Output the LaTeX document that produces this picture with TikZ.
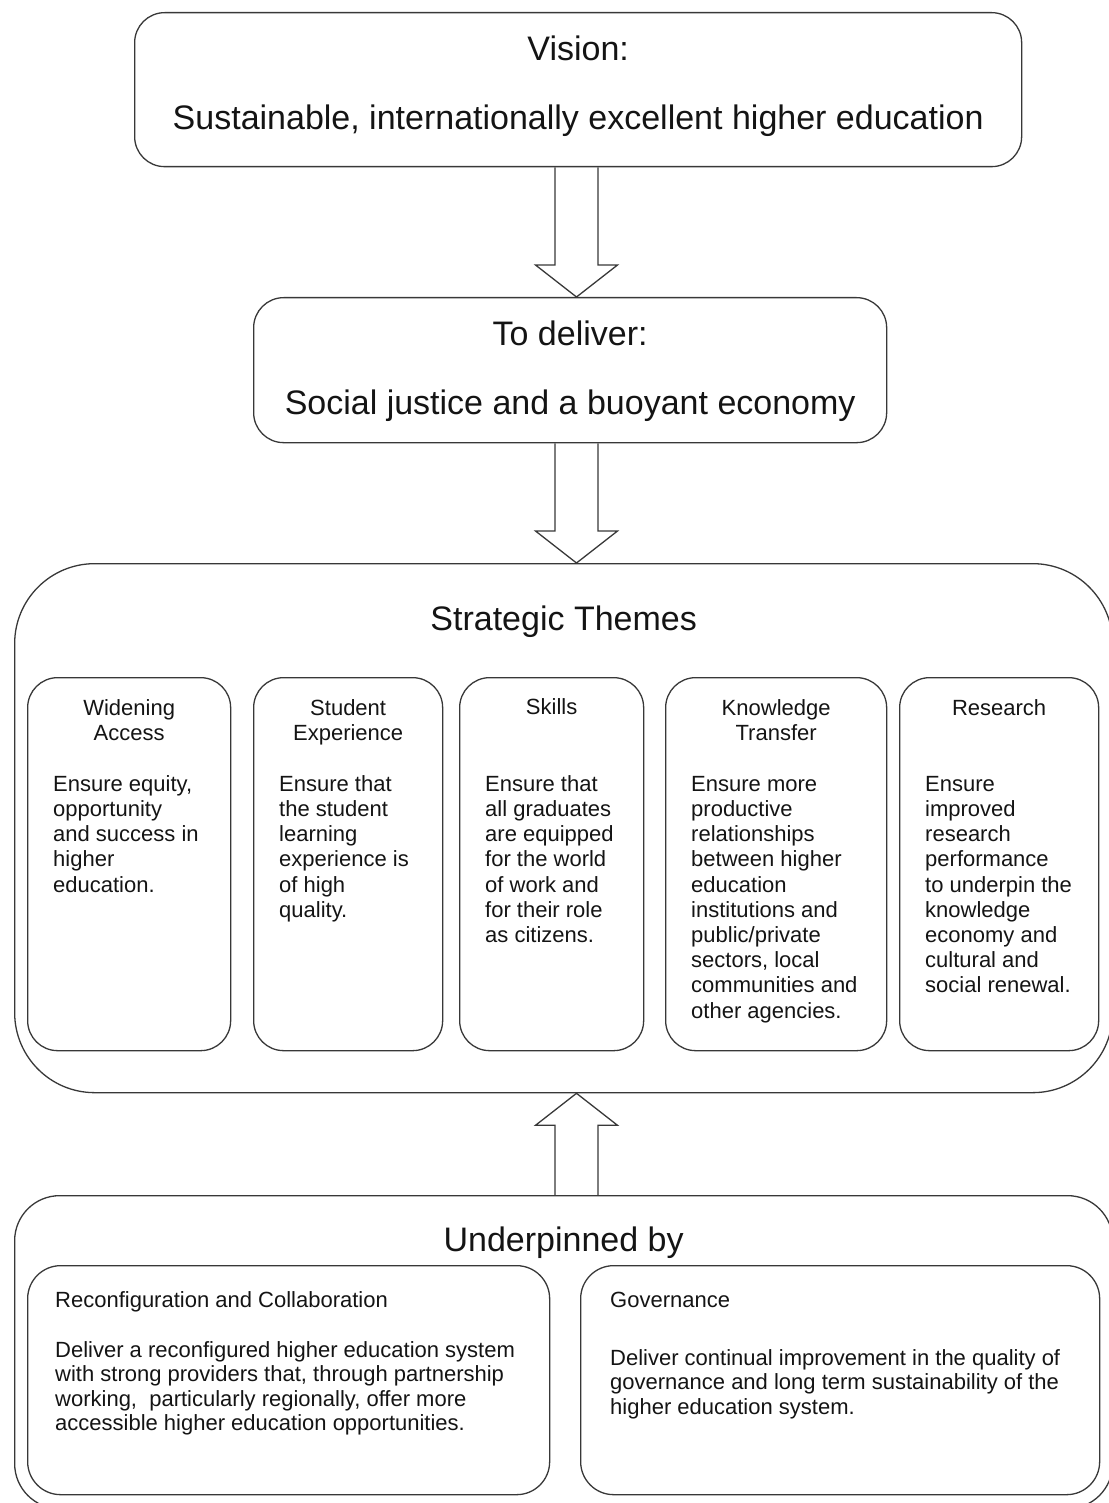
\documentclass[tikz,border=0pt]{standalone}
\usepackage{fontspec}
\setmainfont{Liberation Sans}
\usetikzlibrary{positioning,calc}

\tikzset{
  box/.style={draw=black!78, line width=1.3pt, inner sep=0pt, anchor=north west},
  bigtxt/.style={inner sep=0pt, align=center, text=black!92, font=\fontsize{34}{69}\selectfont},
  headtxt/.style={inner sep=0pt, align=center, text=black!92, font=\fontsize{22}{25}\selectfont},
  bodytxt/.style={inner sep=0pt, align=left, text=black!92, font=\fontsize{22}{25.2}\selectfont},
  lowtxt/.style={inner sep=0pt, align=left, text=black!92, font=\fontsize{22}{24.4}\selectfont},
  blockarr/.style={draw=black!78, line width=1.3pt, line join=miter},
}
\newcommand{\bigstrut}{\rule{0pt}{26pt}}   %fixes first baseline of large text
\newcommand{\smallstrut}{\rule{0pt}{17pt}} %fixes first baseline of small text

% Block arrow from #1 to #2 (vertical)
\def\shw{21.5}   %half width of shaft
\def\hdw{41}     %half width of head
\def\hdl{32pt}   %length of head
\newcommand{\blockarrow}[2]{%
  \draw[blockarr] ($(#1)+(-\shw,0)$) -- ($(#2)!\hdl!(#1)+(-\shw,0)$)
    -- ($(#2)!\hdl!(#1)+(-\hdw,0)$) -- (#2) -- ($(#2)!\hdl!(#1)+(\hdw,0)$)
    -- ($(#2)!\hdl!(#1)+(\shw,0)$) -- ($(#1)+(\shw,0)$);}

\begin{document}
\begin{tikzpicture}[x=1pt,y=-1pt]
  \useasboundingbox (0,0) rectangle (1108,1503);
  \coordinate (axis) at (576.5,0);   %common axis of the arrows

  % Vision
  \node[box, minimum width=887pt, minimum height=154pt, rounded corners=30pt] (vision) at (134,12) {};
  \node[bigtxt, below=22pt of vision.north] (visiontxt) {\bigstrut Vision:\\Sustainable, internationally excellent higher education};

  % To deliver
  \node[box, minimum width=633pt, minimum height=145pt, rounded corners=30pt] (deliver) at (253,297) {};
  \node[bigtxt, below=22pt of deliver.north] (delivertxt) {\bigstrut To deliver:\\Social justice and a buoyant economy};

  % Strategic themes
  \node[box, minimum width=1098pt, minimum height=529pt, rounded corners=80pt] (themes) at (14,563) {};
  \node[bigtxt, below=41pt of themes.north] (themestxt) {\bigstrut Strategic Themes};

  \node[box, minimum width=203pt, minimum height=373pt, rounded corners=30pt] (wa) at (27,677) {};
  \node[box, minimum width=189pt, minimum height=373pt, rounded corners=30pt] (se) at (253,677) {};
  \node[box, minimum width=184pt, minimum height=373pt, rounded corners=30pt] (sk) at (459,677) {};
  \node[box, minimum width=221pt, minimum height=373pt, rounded corners=30pt] (kt) at (665,677) {};
  \node[box, minimum width=199pt, minimum height=373pt, rounded corners=30pt] (rs) at (899,677) {};

  \node[headtxt, below=21pt of wa.north] (wahead) {\smallstrut Widening\\Access};
  \node[headtxt, below=21pt of se.north] (sehead) {\smallstrut Student\\Experience};
  \node[headtxt, below=20pt of sk.north] (skhead) {\smallstrut Skills};
  \node[headtxt, below=21pt of kt.north] (kthead) {\smallstrut Knowledge\\Transfer};
  \node[headtxt, below=21pt of rs.north] (rshead) {\smallstrut Research};

  \node[bodytxt, below right=97pt and 26pt of wa.north west] (watxt) {\smallstrut Ensure equity,\\opportunity\\and success in\\higher\\education.};
  \node[bodytxt, below right=97pt and 26pt of se.north west] (setxt) {\smallstrut Ensure that\\the student\\learning\\experience is\\of high\\quality.};
  \node[bodytxt, below right=97pt and 26pt of sk.north west] (sktxt) {\smallstrut Ensure that\\all graduates\\are equipped\\for the world\\of work and\\for their role\\as citizens.};
  \node[bodytxt, below right=97pt and 26pt of kt.north west] (kttxt) {\smallstrut Ensure more\\productive\\relationships\\between higher\\education\\institutions and\\public/private\\sectors, local\\communities and\\other agencies.};
  \node[bodytxt, below right=97pt and 26pt of rs.north west] (rstxt) {\smallstrut Ensure\\improved\\research\\performance\\to underpin the\\knowledge\\economy and\\cultural and\\social renewal.};

  % Underpinned by
  \node[box, minimum width=1098pt, minimum height=313pt, rounded corners=45pt] (under) at (14,1195) {};
  \node[bigtxt, below=30pt of under.north] (undertxt) {\bigstrut Underpinned by};

  \node[box, minimum width=522pt, minimum height=229pt, rounded corners=33pt] (rc) at (27,1265) {};
  \node[box, minimum width=519pt, minimum height=229pt, rounded corners=33pt] (gov) at (580,1265) {};

  \node[lowtxt, below right=25pt and 28pt of rc.north west] (rchead) {\smallstrut Reconfiguration and Collaboration};
  \node[lowtxt, below right=75pt and 28pt of rc.north west] (rctxt) {\smallstrut Deliver a reconfigured higher education system\\with strong providers that, through partnership\\working,\ \ particularly regionally, offer more\\accessible higher education opportunities.};
  \node[lowtxt, below right=25pt and 30pt of gov.north west] (govhead) {\smallstrut Governance};
  \node[lowtxt, below right=83pt and 30pt of gov.north west] (govtxt) {\smallstrut Deliver continual improvement in the quality of\\governance and long term sustainability of the\\higher education system.};

  % Arrows
  \blockarrow{vision.south -| axis}{deliver.north -| axis}
  \blockarrow{deliver.south -| axis}{themes.north -| axis}
  \blockarrow{under.north -| axis}{themes.south -| axis}
\end{tikzpicture}
\end{document}
